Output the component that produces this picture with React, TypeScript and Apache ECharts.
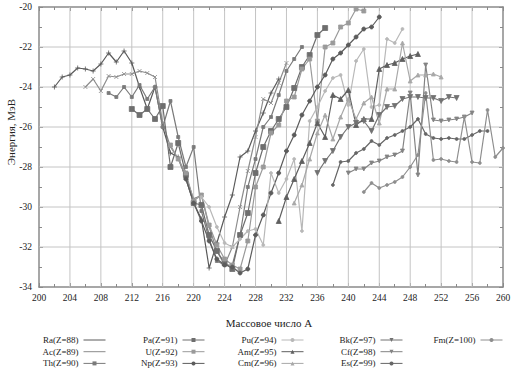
import React, { useEffect, useRef } from "react";
import * as echarts from "echarts";

const names = [
  "Ra(Z=88)", "Ac(Z=89)", "Th(Z=90)", "Pa(Z=91)", "U(Z=92)", "Np(Z=93)", "Pu(Z=94)",
  "Am(Z=95)", "Cm(Z=96)", "Bk(Z=97)", "Cf(Z=98)", "Es(Z=99)", "Fm(Z=100)",
];
const startA = [202, 206, 209, 212, 217, 219, 221, 231, 233, 236, 240, 238, 242];

const ra = [-24.0,-23.5,-23.4,-23.05,-23.1,-23.2,-22.85,-22.3,-22.75,-22.2,-22.8,-24.0,-25.1,-24.0,-26.0,-27.3,-27.5,-28.6,-29.8,-30.6,-33.05,-31.8,-30.5,-29.4,-27.5,-27.2,-26.2,-25.3,-24.3,-23.6];
const ac = [-24.0,-23.6,-24.2,-23.45,-23.5,-23.35,-23.35,-23.2,-23.3,-23.5,-25.8,-27.0,-27.6,-28.5,-29.6,-29.4,-31.0,-32.2,-32.9,-32.0,-30.0,-28.2,-26.5,-24.6,-24.8,-23.8,-22.8];
const th = [-24.3,-24.5,-24.0,-24.5,-23.9,-24.6,-24.0,-26.0,-24.7,-26.5,-28.0,-27.0,-30.2,-31.6,-32.7,-32.9,-32.9,-31.4,-29.0,-27.6,-26.0,-25.5,-24.4,-23.2,-22.6,-22.0];
const pa = [-25.1,-25.4,-25.1,-25.6,-24.95,-28.0,-26.8,-28.4,-29.8,-29.9,-31.4,-32.2,-32.8,-33.1,-31.4,-30.3,-28.3,-27.0,-26.2,-25.6,-25.0,-24.05,-23.0,-22.4,-21.4,-21.05];
const u = [-26.9,-27.6,-28.3,-29.7,-29.4,-30.9,-31.9,-32.6,-32.9,-33.1,-31.7,-29.0,-28.0,-26.3,-25.9,-24.7,-24.5,-23.1,-22.6,-25.7,-22.0,-21.8,-21.0,-20.8,-20.1,-20.2];
const np = [-28.6,-29.8,-30.7,-31.7,-32.6,-32.9,-33.0,-33.3,-33.1,-31.4,-30.4,-29.3,-28.3,-27.2,-26.4,-25.4,-24.7,-24.0,-23.4,-22.6,-22.3,-21.9,-21.5,-21.1,-21.0,-20.5];
const pu = [-29.5,-30.0,-31.0,-31.8,-32.0,-31.6,-31.2,-31.1,-31.9,-28.3,-29.3,-28.6,-27.6,-31.2,-25.7,-25.0,-24.2,-23.55,-23.4,-24.9,-22.7,-22.1,-25.0,-24.9,-21.6,-21.8,-21.1];
const am = [-30.7,-29.5,-28.6,-27.7,-26.8,-25.8,-26.5,-24.4,-24.6,-24.15,-25.9,-25.6,-25.6,-23.1,-22.9,-22.8,-22.6,-22.45,-22.35];
const cm = [-29.8,-28.9,-27.6,-26.3,-25.4,-26.6,-25.5,-24.6,-25.6,-24.8,-24.5,-25.8,-24.1,-24.1,-21.8,-23.7,-23.4,-23.4,-23.35,-23.5];
const bk = [-28.3,-27.7,-27.2,-26.5,-26.0,-25.8,-25.7,-26.2,-25.4,-25.0,-24.95,-24.6,-24.5,-24.5,-24.55,-24.55,-24.7,-24.5,-24.55];
const cf = [-28.3,-28.1,-28.1,-27.8,-27.7,-27.5,-27.4,-27.2,-24.3,-28.4,-22.9,-25.65,-25.7,-25.65,-25.6,-25.5,-25.3];
const es = [-28.9,-27.75,-27.7,-27.3,-27.1,-26.7,-26.9,-26.55,-26.4,-26.2,-26.0,-25.6,-26.35,-26.55,-26.6,-26.55,-26.6,-26.6,-26.4,-26.2,-26.2];
const fm = [-29.25,-28.8,-29.05,-28.9,-28.75,-28.5,-28.0,-27.4,-24.3,-27.65,-27.6,-27.7,-27.75,-25.5,-27.75,-27.8,-25.15,-27.5,-27.05];

const values = [ra, ac, th, pa, u, np, pu, am, cm, bk, cf, es, fm];

// axis range and gridline positions
const xMin = 200, xMax = 260, xStep = 4;
const yMin = -34, yMax = -20, yStep = 2;
const xGridTicks = [204, 208, 212, 216, 220, 224, 228, 232, 236, 240, 244, 248, 252, 256];
const yGridTicks = [-32, -30, -28, -26, -24, -22];

const PLUS = "path://M0,5L10,5M5,0L5,10";
const CROSS = "path://M0,0L10,10M10,0L0,10";
const TRI_DOWN = "path://M0,0L10,0L5,9Z";
const styles = [
  { color: "#5a5a5a", symbol: PLUS, size: 5 },
  { color: "#8c8c8c", symbol: CROSS, size: 4 },
  { color: "#7a7a7a", symbol: "rect", size: 3 },
  { color: "#6e6e6e", symbol: "rect", size: 5 },
  { color: "#9a9a9a", symbol: "rect", size: 4 },
  { color: "#5c5c5c", symbol: "circle", size: 4 },
  { color: "#b8b8b8", symbol: "circle", size: 3 },
  { color: "#5f5f5f", symbol: "triangle", size: 5 },
  { color: "#a8a8a8", symbol: "triangle", size: 4 },
  { color: "#727272", symbol: TRI_DOWN, size: 5 },
  { color: "#838383", symbol: TRI_DOWN, size: 4 },
  { color: "#666666", symbol: "circle", size: 3 },
  { color: "#8e8e8e", symbol: "circle", size: 3 },
];

const FONT = "Liberation Serif";

export default function App() {
  const ref = useRef<HTMLDivElement>(null);
  useEffect(() => {
    if (!ref.current) return;
    const chart = echarts.init(ref.current, undefined, { renderer: "svg" });
    const gridSeries: any[] = [
      ...xGridTicks.map((v) => [[v, yMin], [v, yMax]]),
      ...yGridTicks.map((v) => [[xMin, v], [xMax, v]]),
    ].map((pts, i) => ({
      name: "grid" + i,
      type: "line",
      data: pts,
      symbol: "none",
      silent: true,
      z: 1,
      lineStyle: { color: "#c4c4c4", width: 1 },
      emphasis: { disabled: true },
      xAxisIndex: 0,
      yAxisIndex: 0,
    }));
    const dataSeries: any[] = values.map((vals, i) => ({
      name: names[i],
      type: "line",
      data: vals.map((v, k) => [startA[i] + k, v]),
      symbol: styles[i].symbol,
      symbolSize: styles[i].size,
      showSymbol: true,
      z: 3,
      lineStyle: { color: styles[i].color, width: 1.2 },
      itemStyle: { color: styles[i].color, borderColor: styles[i].color, borderWidth: 0.8 },
      emphasis: { disabled: true },
      xAxisIndex: 0,
      yAxisIndex: 0,
    }));
    const cols = [
      { names: names.slice(0, 3), right: 409 },
      { names: names.slice(3, 6), right: 310 },
      { names: names.slice(6, 9), right: 211 },
      { names: names.slice(9, 12), right: 112 },
      { names: names.slice(12, 13), right: 12 },
    ];
    const legends = cols.map((c) => ({
      data: c.names,
      orient: "vertical",
      align: "right",
      right: c.right,
      top: 335,
      padding: 0,
      itemGap: 1.7,
      itemWidth: 22,
      itemHeight: 5,
      itemStyle: { borderWidth: 0 },
      lineStyle: { width: 1 },
      textStyle: { fontFamily: FONT, fontSize: 9, color: "#222", lineHeight: 10, height: 10 },
      selectedMode: false,
    }));
    const mkAxis = (extra: any) => ({
      type: "value",
      axisLine: { show: true, lineStyle: { color: "#8a8a8a", width: 1.5 } },
      axisTick: { show: true, inside: true, length: 4, lineStyle: { color: "#8a8a8a", width: 1 } },
      minorTick: { show: true, splitNumber: 2, length: 3, lineStyle: { color: "#8a8a8a", width: 1 } },
      splitLine: { show: false },
      ...extra,
    });
    chart.setOption({
      animation: false,
      backgroundColor: "#fff",
      grid: { left: 39, right: 12, top: 7, bottom: 88 },
      xAxis: [
        mkAxis({
          min: xMin, max: xMax, interval: xStep,
          axisLabel: { fontFamily: FONT, fontSize: 9.5, color: "#222", margin: 6 },
        }),
        mkAxis({
          position: "top",
          min: xMin, max: xMax, interval: xStep,
          axisLabel: { show: false },
        }),
      ],
      yAxis: [
        mkAxis({
          min: yMin, max: yMax, interval: yStep,
          axisLabel: { fontFamily: FONT, fontSize: 9.5, color: "#222", margin: 7 },
        }),
        mkAxis({
          position: "right",
          min: yMin, max: yMax, interval: yStep,
          axisLabel: { show: false },
        }),
      ],
      legend: legends,
      graphic: [
        {
          type: "text",
          x: 269, y: 323,
          style: { text: "Массовое число А", font: `11px "${FONT}"`, fill: "#222", align: "center", verticalAlign: "middle" },
        },
        {
          type: "text",
          x: 11, y: 132, rotation: Math.PI / 2,
          style: { text: "Энергия, МэВ", font: `11px "${FONT}"`, fill: "#222", align: "center", verticalAlign: "middle" },
        },
      ],
      series: [...gridSeries, ...dataSeries],
    });
    return () => chart.dispose();
  }, []);
  return (
    <div
      ref={ref}
      style={{ position: "fixed", left: 0, top: 0, width: 515, height: 375, background: "#fff" }}
    />
  );
}
